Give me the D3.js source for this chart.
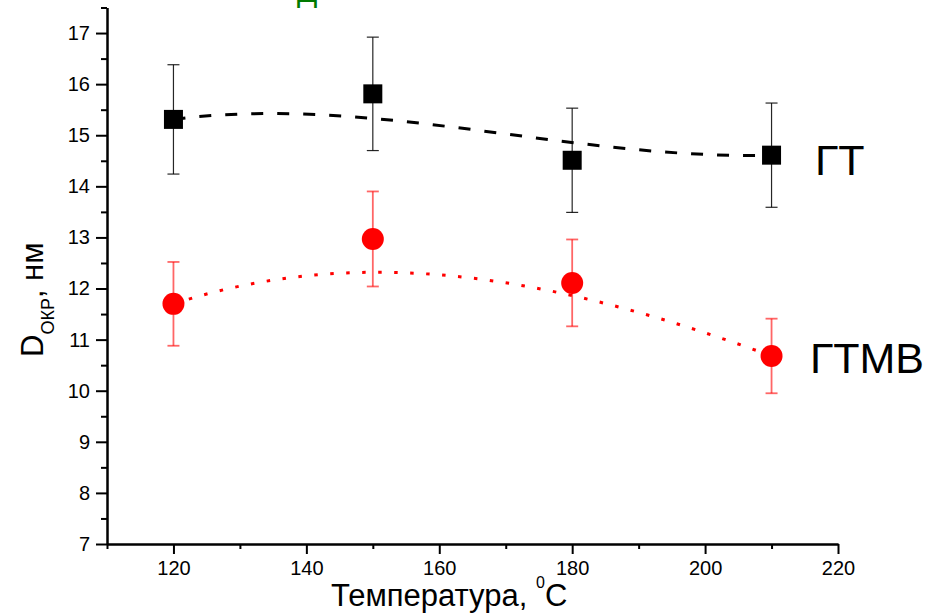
<!DOCTYPE html>
<html>
<head>
<meta charset="utf-8">
<script src="https://cdn.jsdelivr.net/npm/d3@7"></script>
<style>
  html, body { margin: 0; padding: 0; background: #fff; }
  svg { display: block; font-family: "Liberation Sans", Arial, sans-serif; }
</style>
</head>
<body>
<svg id="chart" width="933" height="613"></svg>
<script>
// ---- data ----
const temperatures = [120, 150, 180, 210];
const gtValues = [15.31, 15.81, 14.51, 14.61];
const gtErrors = [1.07, 1.11, 1.02, 1.02];
const gtmvValues = [11.70, 12.97, 12.11, 10.68];
const gtmvErrors = [0.82, 0.93, 0.85, 0.73];
const xTicks = [120, 140, 160, 180, 200, 220];
const xMinorTicks = [110, 130, 150, 170, 190, 210];
const yTicks = [7, 8, 9, 10, 11, 12, 13, 14, 15, 16, 17];
const yMinorTicks = [7.5, 8.5, 9.5, 10.5, 11.5, 12.5, 13.5, 14.5, 15.5, 16.5, 17.5];
const seriesLabels = ["ГТ", "ГТМВ"];

const svg = d3.select("#chart");
const x = d3.scaleLinear().domain([110, 220]).range([107, 838]);
const y = d3.scaleLinear().domain([7, 17.5]).range([544, 7.5]);

// ---- axes ----
svg.append("g").attr("transform", `translate(0,${y(7)})`)
  .call(d3.axisBottom(x).tickValues(xTicks).tickSize(10).tickSizeOuter(0).tickPadding(7));
svg.append("g").attr("transform", `translate(0,${y(7)})`)
  .call(d3.axisBottom(x).tickValues(xMinorTicks).tickSize(5).tickSizeOuter(0).tickFormat(""));
svg.append("g").attr("transform", `translate(${x(110)},0)`)
  .call(d3.axisLeft(y).tickValues(yTicks).tickSize(11).tickSizeOuter(0).tickPadding(6));
svg.append("g").attr("transform", `translate(${x(110)},0)`)
  .call(d3.axisLeft(y).tickValues(yMinorTicks).tickSize(6).tickSizeOuter(0).tickFormat(""));

svg.selectAll(".domain").attr("stroke", "#000").attr("stroke-width", 2);
svg.selectAll(".tick line").attr("stroke", "#000").attr("stroke-width", 2);
svg.selectAll(".tick text").attr("fill", "#000").style("font-size", "20px")
  .style("font-family", '"Liberation Sans", Arial, sans-serif');

// ---- axis titles ----
const xt = svg.append("text").attr("x", 331).attr("y", 606)
  .style("font-size", "31px").attr("fill", "#000");
xt.append("tspan").text("Температура, ");
xt.append("tspan").text("0").style("font-size", "16px").attr("dy", -18);
xt.append("tspan").text("C").attr("dy", 18);

const yt = svg.append("text")
  .attr("transform", "translate(43,357) rotate(-90)")
  .style("font-size", "31px").attr("fill", "#000");
yt.append("tspan").text("D");
yt.append("tspan").text("ОКР").style("font-size", "18px").attr("dy", 11);
yt.append("tspan").text(", нм").attr("dy", -11);

// ---- fit curves (cubic Bezier with the data points as control points) ----
function bez(vals) {
  const p = d3.path();
  p.moveTo(x(temperatures[0]), y(vals[0]));
  p.bezierCurveTo(x(temperatures[1]), y(vals[1]), x(temperatures[2]), y(vals[2]), x(temperatures[3]), y(vals[3]));
  return p.toString();
}

// ---- error bars ----
function errBars(vals, errs, color, width, opacity) {
  const g = svg.append("g").attr("stroke", color).attr("stroke-width", width).attr("stroke-opacity", opacity);
  temperatures.forEach((t, i) => {
    const cx = x(t), y1 = y(vals[i] + errs[i]), y2 = y(vals[i] - errs[i]);
    g.append("line").attr("x1", cx).attr("x2", cx).attr("y1", y1).attr("y2", y2);
    g.append("line").attr("x1", cx - 6).attr("x2", cx + 6).attr("y1", y1).attr("y2", y1);
    g.append("line").attr("x1", cx - 6).attr("x2", cx + 6).attr("y1", y2).attr("y2", y2);
  });
}
errBars(gtValues, gtErrors, "#000", 1.2, 0.85);
errBars(gtmvValues, gtmvErrors, "#ff0000", 1.8, 0.6);

svg.append("path").attr("d", bez(gtValues)).attr("fill", "none")
  .attr("stroke", "#000").attr("stroke-width", 3).attr("stroke-dasharray", "12,14");
svg.append("path").attr("d", bez(gtmvValues)).attr("fill", "none")
  .attr("stroke", "#ff0000").attr("stroke-width", 3).attr("stroke-dasharray", "3.5,12.5");

// ---- markers ----
svg.append("g").selectAll("rect").data(temperatures).join("rect")
  .attr("x", (d) => x(d) - 9.5).attr("y", (d, i) => y(gtValues[i]) - 9.5)
  .attr("width", 19).attr("height", 19).attr("fill", "#000");
svg.append("g").selectAll("circle").data(temperatures).join("circle")
  .attr("cx", (d) => x(d)).attr("cy", (d, i) => y(gtmvValues[i]))
  .attr("r", 11).attr("fill", "#ff0000");

// ---- series labels ----
svg.append("text").attr("x", 815).attr("y", 175).text(seriesLabels[0])
  .style("font-size", "43px").attr("fill", "#000");
svg.append("text").attr("x", 810).attr("y", 373).text(seriesLabels[1])
  .style("font-size", "43px").attr("fill", "#000");

// ---- partially visible green glyph at top (cut off in the reference too) ----
svg.append("text").attr("x", 297).attr("y", 2).text("Д")
  .style("font-size", "30px").attr("fill", "#007a00");
</script>
</body>
</html>
